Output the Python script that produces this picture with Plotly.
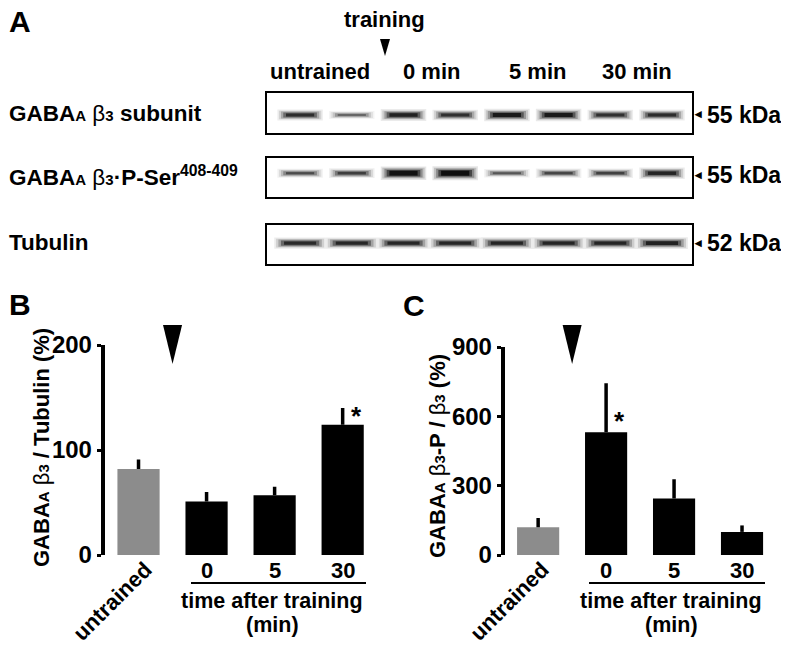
import plotly.graph_objects as go

# Page is drawn inside the HTML body, which has an 8px default margin.
OFF = 8
W, H = 789 - OFF, 657 - OFF
FONT = "Liberation Sans, Arial, Helvetica, sans-serif"

# ---------------- data ----------------
# Panel A: western blot band darkness (0-1), 8 lanes
lane_groups = ["untrained", "0 min", "5 min", "30 min"]
beta3_band = [0.72, 0.45, 0.80, 0.70, 0.86, 0.86, 0.70, 0.72]
pser_band = [0.55, 0.62, 0.97, 1.00, 0.50, 0.58, 0.60, 0.78]
tubulin_band = [0.74, 0.76, 0.76, 0.76, 0.78, 0.78, 0.78, 0.80]
kda_labels = ["55 kDa", "55 kDa", "52 kDa"]

# Panel B: GABAA b3 / Tubulin (%)
groups = ["untrained", "0", "5", "30"]
b_mean = [82, 51, 57, 124]
b_sem = [9, 9, 8, 16]
b_ticks = [0, 100, 200]

# Panel C: GABAA b3-P / b3 (%)
c_mean = [120, 531, 244, 100]
c_sem = [40, 212, 84, 28]
c_ticks = [0, 300, 600, 900]

bar_colors = ["#8c8c8c", "black", "black", "black"]


def px(x):
    return (x - OFF) / W


def py(y):
    return 1 - (y - OFF) / H


fig = go.Figure()

# ---------------- Panel A blots ----------------
blots = [(beta3_band, -0.1, 0.44), (pser_band, 0.22, 0.44), (tubulin_band, 0.07, 0.5)]
box_y = [(93, 133), (158, 197), (225, 264)]
for r, (bands, yoff, hw) in enumerate(blots):
    ax = r + 3
    for i, d in enumerate(bands):
        layers = [
            (hw, 3 + 11 * d, 0.10 * d),
            (hw * 0.93, 2 + 9 * d, 0.16 * d),
            (hw * 0.84, 2 + 7 * d, 0.28 * d),
            (hw * 0.74, 1 + 5.5 * d, 0.5 * d),
            (hw * 0.62, 1 + 4 * d * d, 0.8 * d),
        ]
        for h, w, a in layers:
            fig.add_trace(go.Scatter(
                x=[i - h, i + h], y=[yoff, yoff], mode="lines",
                line=dict(color=f"rgba(0,0,0,{a:.3f})", width=w),
                xaxis=f"x{ax}", yaxis=f"y{ax}", hoverinfo="skip", showlegend=False))
    y0, y1 = box_y[r]
    fig.layout[f"xaxis{ax}"] = dict(domain=[px(267), px(692)], range=[-0.64, 7.58], anchor=f"y{ax}",
                                    showline=True, mirror=True, linewidth=1.5, linecolor="black",
                                    showticklabels=False, ticks="", showgrid=False, zeroline=False,
                                    automargin=False, fixedrange=True)
    fig.layout[f"yaxis{ax}"] = dict(domain=[py(y1), py(y0)], range=[-1, 1], anchor=f"x{ax}",
                                    showline=True, mirror=True, linewidth=1.5, linecolor="black",
                                    showticklabels=False, ticks="", showgrid=False, zeroline=False,
                                    automargin=False, fixedrange=True)

# ---------------- Panels B and C bars ----------------
x_pos = [0, 1, 2, 3]
for xa, ya, mean, sem in [("x", "y", b_mean, b_sem), ("x2", "y2", c_mean, c_sem)]:
    fig.add_trace(go.Bar(
        x=x_pos, y=mean, width=0.62, xaxis=xa, yaxis=ya,
        marker=dict(color=bar_colors, line=dict(width=0)),
        error_y=dict(type="data", symmetric=False, array=sem, arrayminus=[0] * len(sem),
                     color="black", thickness=3.5, width=0),
        showlegend=False, hoverinfo="skip"))

yax_common = dict(showline=True, linewidth=3.5, linecolor="black", ticks="outside", ticklen=4,
                  tickwidth=3, tickcolor="black", showgrid=False, zeroline=False, automargin=False,
                  tickfont=dict(family=FONT, size=24, color="black", weight="bold"))
xax_common = dict(showline=False, showticklabels=False, ticks="", showgrid=False, zeroline=False,
                  automargin=False)

fig.layout.xaxis = dict(domain=[px(104.5), px(376)], range=[-0.50, 3.49], anchor="y", **xax_common)
fig.layout.yaxis = dict(domain=[py(555), py(345)], range=[0, 200], anchor="x",
                        tickvals=b_ticks, **yax_common)
fig.layout.xaxis2 = dict(domain=[px(504.5), px(776)], range=[-0.495, 3.5], anchor="y2", **xax_common)
fig.layout.yaxis2 = dict(domain=[py(555), py(347)], range=[0, 900], anchor="x2",
                         tickvals=c_ticks, **yax_common)

# ---------------- annotations ----------------
ann = []


def text(x, y, s, size=22, xanchor="center", yanchor="middle", angle=0, xref="paper", yref="paper",
         xshift=0):
    ann.append(dict(x=x, y=y, text=s, showarrow=False, xref=xref, yref=yref, xanchor=xanchor,
                    yanchor=yanchor, textangle=angle, xshift=xshift, borderpad=0,
                    font=dict(family=FONT, size=size, color="black", weight="bold")))


sm = "<span style='font-size:15px'>{}</span>"
beta = "<span style='font-weight:normal'>β</span>"

# Panel A
text(px(8), py(22), "A", size=30, xanchor="left")
text(px(384), py(20), "training")
lane_group_x = [320, 431, 537, 637]
for gx, lab in zip(lane_group_x, lane_groups):
    text(px(gx), py(72), lab)
row_labels = [
    "GABA" + sm.format("A") + " " + beta + sm.format("3") + " subunit",
    "GABA" + sm.format("A") + " " + beta + sm.format("3") + "·P-Ser<sup>408-409</sup>",
    "Tubulin",
]
row_y = [113, 176, 243]
for lab, yy in zip(row_labels, row_y):
    text(px(8), py(yy), lab, size=22.5, xanchor="left")
kda_y = [115, 175, 243]
for lab, yy in zip(kda_labels, kda_y):
    text(px(697.5), py(yy - 1), "◂", size=13)
    text(px(706), py(yy), lab, size=23, xanchor="left")

# Panel B
text(px(8), py(304), "B", size=30, xanchor="left")
text(px(41), py(448), "GABA" + sm.format("A") + " " + beta + sm.format("3") + " / Tubulin (%)",
     angle=-90)
text(px(112), py(601), groups[0], angle=-45)
for i in range(1, 4):
    text(i, py(570), groups[i], xref="x")
text(px(272), py(601), "time after training", size=21.5)
text(px(272), py(625), "(min)", size=21.5)
text(3, py(416), "*", size=26, xref="x", xshift=14)

# Panel C
text(px(402), py(305), "C", size=30, xanchor="left")
text(px(437), py(456), "GABA" + sm.format("A") + " " + beta + sm.format("3") + "-P / "
     + beta + sm.format("3") + " (%)", angle=-90)
text(px(509), py(601), groups[0], angle=-45)
for i in range(1, 4):
    text(i, py(570), groups[i], xref="x2")
text(px(671), py(601), "time after training", size=21.5)
text(px(671), py(625), "(min)", size=21.5)
text(1, py(421), "*", size=26, xref="x2", xshift=13)

# ---------------- shapes ----------------
shapes = [
    dict(type="line", xref="paper", yref="paper", x0=px(191), x1=px(366), y0=py(583), y1=py(583),
         line=dict(color="black", width=2)),
    dict(type="line", xref="paper", yref="paper", x0=px(589), x1=px(765), y0=py(583), y1=py(583),
         line=dict(color="black", width=2)),
    dict(type="path", xref="paper", yref="paper",
         path=f"M {px(380)},{py(39)} L {px(390)},{py(39)} L {px(385)},{py(56)} Z",
         fillcolor="black", line=dict(width=0)),
]
for xr in ["x", "x2"]:
    shapes.append(dict(type="path", xref=xr, yref="paper",
                       path=f"M 0.36,{py(325)} L 0.64,{py(325)} L 0.5,{py(364)} Z",
                       fillcolor="black", line=dict(width=0)))

fig.update_layout(
    width=W, height=H, margin=dict(l=0, r=0, t=0, b=0, pad=0, autoexpand=False),
    paper_bgcolor="white", plot_bgcolor="rgba(0,0,0,0)",
    annotations=ann, shapes=shapes, showlegend=False,
    font=dict(family=FONT, color="black"),
)

fig.write_html("out.html")
